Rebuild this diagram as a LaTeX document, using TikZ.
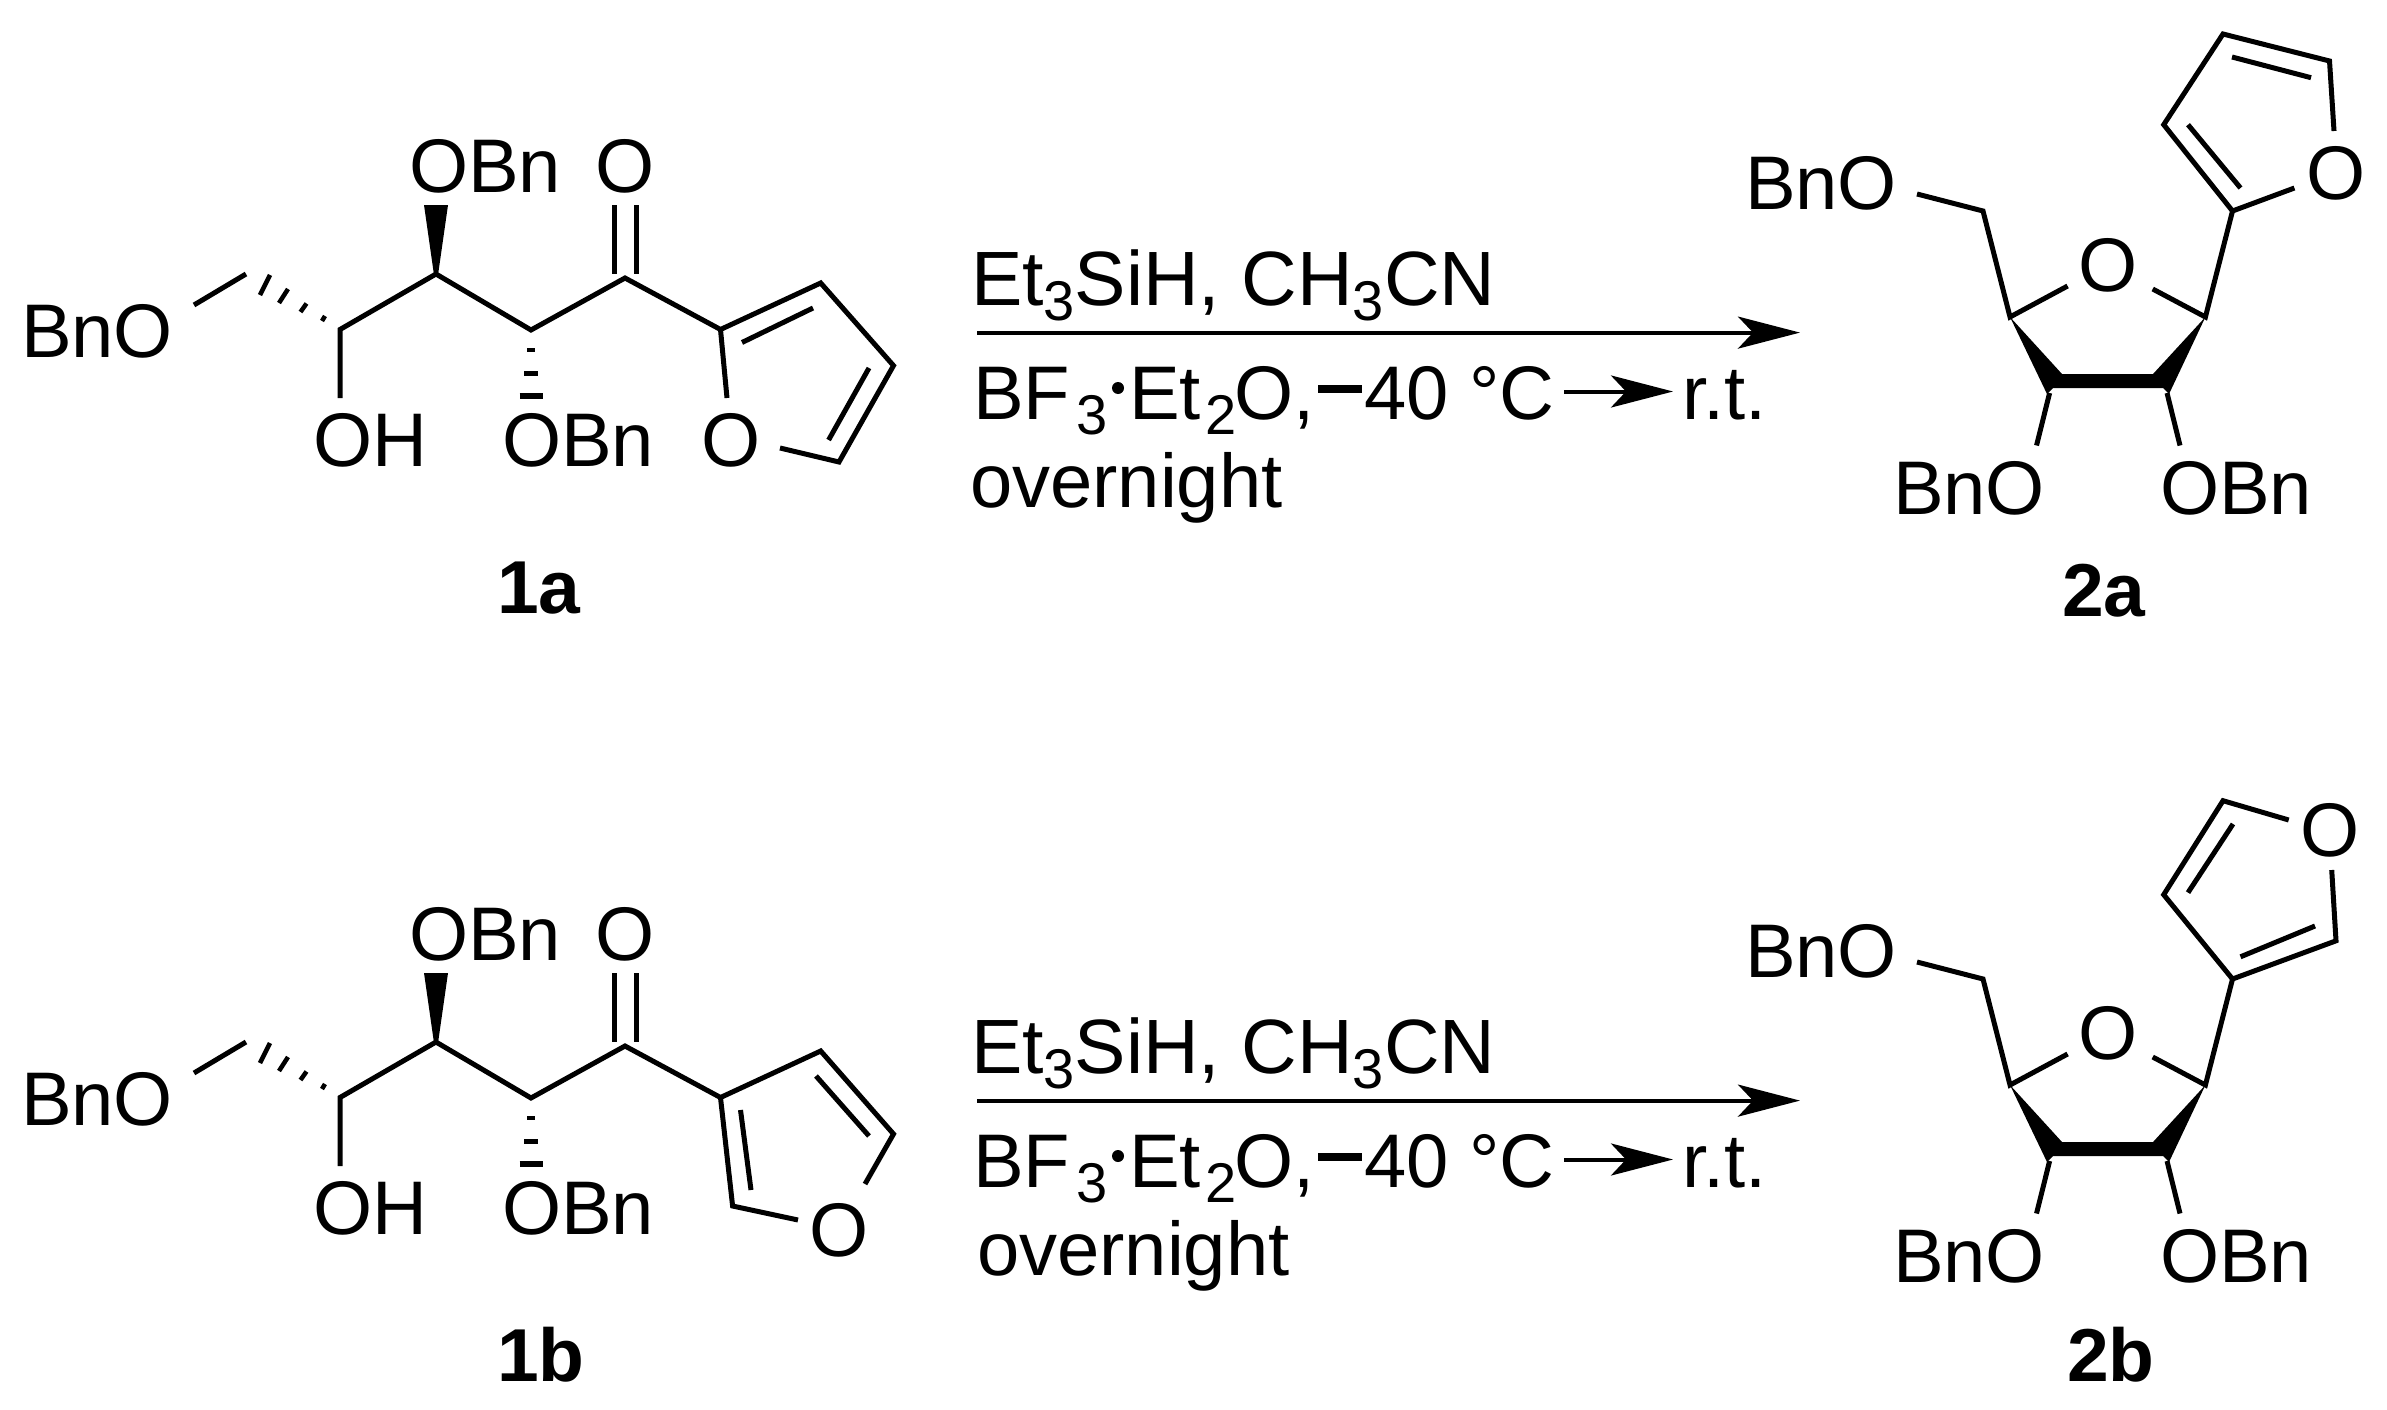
\documentclass[tikz,border=0pt]{standalone}
\usepackage{fontspec}
\setmainfont{Liberation Sans}
\usetikzlibrary{arrows.meta}
\newcommand{\lowidx}[1]{\raisebox{-15pt}{\fontsize{56}{56}\selectfont #1}}
\tikzset{
  x=1pt,y=-1pt,
  bond/.style={line width=5pt,line cap=butt,line join=miter},
  atom/.style={anchor=base west,inner sep=0pt,outer sep=0pt,font=\fontsize{76}{80}\selectfont},
  atomc/.style={anchor=base,inner sep=0pt,outer sep=0pt,font=\fontsize{76}{80}\selectfont},
  lab/.style={anchor=base west,inner sep=0pt,outer sep=0pt,font=\fontsize{75}{80}\selectfont\bfseries},
  solid wedge/.style={fill=black,draw=none},
  rxn/.style={line width=4pt,-{Stealth[length=62pt,width=32pt,inset=15pt]}},
}
% open-chain ketone, common part
\newcommand{\chain}[1]{
  \node[atom] (#1bno) at (21,357) {BnO};
  \node[atom] (#1obnt) at (409,192.5) {OBn};
  \node[atomc] (#1ok) at (625,192.5) {O};
  \node[atom] (#1oh) at (313,466) {OH};
  \node[atom] (#1obnb) at (502,466) {OBn};
  \coordinate (#1a) at (194,305);
  \coordinate (#1b) at (246,274);
  \coordinate (#1c4) at (340,329.5);
  \coordinate (#1c4o) at (340,398);
  \coordinate (#1c3) at (436,274);
  \coordinate (#1c2) at (531,330);
  \coordinate (#1c1) at (625,278);
  \coordinate (#1cf) at (720.5,329.5);
  \draw[bond] (#1a) -- (#1b);
  \draw[bond] (#1c4o) -- (#1c4) -- (#1c3) -- (#1c2) -- (#1c1) -- (#1cf);
  \draw[bond] (614,205) -- (614,274);
  \draw[bond] (636,205) -- (636,274);
  \fill[solid wedge] (#1c3) ++(-2,1) -- (424,205) -- (448,205) -- (438,275) -- cycle;
  % hashed bonds
  \draw[line width=4.5pt] (270,275) -- (260,295);
  \draw[line width=4.5pt] (288,289) -- (279,303);
  \draw[line width=4.5pt] (306.5,303.5) -- (300.5,312);
  \draw[line width=4.5pt] (325,316) -- (322,321);
  \draw[line width=4pt] (527.4,350) -- (534.6,350);
  \draw[line width=5pt] (524,373) -- (538,373);
  \draw[line width=5.5pt] (519.5,396) -- (542.5,396);
}
% furanose product, common part
\newcommand{\sugar}[1]{
  \node[atom] (#1bno) at (1745,209.7) {BnO};
  \node[atomc] (#1or) at (2108,291.4) {O};
  \node[atom] (#1bnob) at (1893,514) {BnO};
  \node[atom] (#1obnb) at (2160,514) {OBn};
  \coordinate (#1m) at (1917,194);
  \coordinate (#1ch) at (1983,211);
  \coordinate (#1c4) at (2010,317);
  \coordinate (#1o1) at (2067.6,286);
  \coordinate (#1o2) at (2152.7,289);
  \coordinate (#1c1) at (2205.4,317);
  \coordinate (#1f) at (2232.5,211);
  \draw[bond] (#1m) -- (#1ch) -- (#1c4) -- (#1o1);
  \draw[bond] (#1o2) -- (#1c1) -- (#1f);
  \fill[solid wedge] (#1c4) -- (2062,374) -- (2153,374) -- (#1c1) -- (2169,394) -- (2163,388) -- (2053,388) -- (2047,394) -- cycle;
  \draw[bond] (2049.6,393) -- (2036.5,445.5);
  \draw[bond] (2167,393) -- (2180,445.5);
}
% reagents and reaction arrow
\newcommand{\reagents}[2]{
  \node[atom,font=\fontsize{77}{80}\selectfont] (#1l1) at (971,305) {Et\lowidx{3}SiH, CH\lowidx{3}CN};
  \coordinate (#1as) at (977,332.6);
  \coordinate (#1ae) at (1800,332.6);
  \draw[rxn] (#1as) -- (#1ae);
  \node[atom] (#1bf) at (973,419) {BF};
  \node[atom] (#1three) at (1076,434) {\fontsize{56}{56}\selectfont 3};
  \fill (1118,388) circle (6pt);
  \node[atom] (#1et) at (1129,419) {Et};
  \node[atom] (#1two) at (1205,434) {\fontsize{56}{56}\selectfont 2};
  \node[atom] (#1oc) at (1234,419) {O,};
  \fill (1318,385) rectangle (1362,392.5);
  \node[atom] (#1t) at (1364,419) {40 °C};
  \coordinate (#1ss) at (1564,391.5);
  \coordinate (#1se) at (1673,391.5);
  \draw[rxn] (#1ss) -- (#1se);
  \node[atom] (#1rt) at (1682,419) {r.t.};
  \node[atom] (#1on) at (#2,507) {overnight};
}
\begin{document}
\begin{tikzpicture}
\path[use as bounding box,fill=white] (0,0) rectangle (2387,1410);

% ---------- row a ----------
\chain{p}
\reagents{p}{970}
\node[lab] (l1a) at (497,613) {1a};
\node[atomc] (pof) at (731,466) {O};
\coordinate (pf3) at (820.7,283);
\coordinate (pf4) at (893.5,365.6);
\coordinate (pf5) at (839,462);
\draw[bond] (727,398) -- (pcf) -- (pf3) -- (pf4) -- (pf5) -- (780,448);
\draw[bond] (742,342.5) -- (813,308);
\draw[bond] (869,368) -- (828.6,440);

\sugar{q}
\node[lab] (l2a) at (2062,616) {2a};
\node[atomc] (qof) at (2336,199.4) {O};
\coordinate (qf3) at (2163.7,124.7);
\coordinate (qf4) at (2223,34);
\coordinate (qf5) at (2329.5,61);
\draw[bond] (2294.4,188) -- (qf) -- (qf3) -- (qf4) -- (qf5) -- (2334,131);
\draw[bond] (2188,124.7) -- (2240.5,188);
\draw[bond] (2232,57) -- (2311,77.7);

% ---------- row b ----------
\begin{scope}[yshift=-768pt]
\chain{r}
\reagents{r}{977}
\end{scope}
\node[lab] (l1b) at (497,1381) {1b};
\node[atomc] (rof) at (839,1256.4) {O};
\coordinate (rf3) at (820.7,1051);
\coordinate (rf4) at (893.5,1134);
\coordinate (rf5) at (732.6,1206);
\draw[bond] (865,1184) -- (rf4) -- (rf3) -- (rcf) -- (rf5) -- (798,1220);
\draw[bond] (816,1076) -- (869,1136);
\draw[bond] (740.5,1110) -- (751,1190);

\begin{scope}[yshift=-768pt]
\sugar{s}
\end{scope}
\node[lab] (l2b) at (2067,1381) {2b};
\node[atomc] (sof) at (2330.4,856.6) {O};
\coordinate (sf3) at (2163.7,894.7);
\coordinate (sf4) at (2223,800.7);
\coordinate (sf5) at (2336,940.8);
\draw[bond] (2288.7,820) -- (sf4) -- (sf3) -- (sf) -- (sf5) -- (2331.7,870);
\draw[bond] (2233,824) -- (2188,892.6);
\draw[bond] (2240.5,956.8) -- (2315,926);
\end{tikzpicture}
\end{document}
